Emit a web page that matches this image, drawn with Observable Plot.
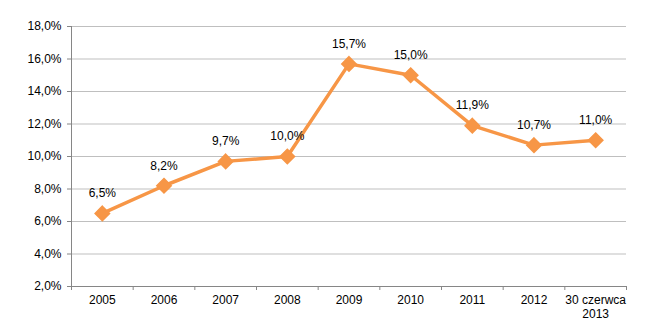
<!DOCTYPE html>
<html>
<head>
<meta charset="utf-8">
<script src="https://cdn.jsdelivr.net/npm/d3@7"></script>
<script src="https://cdn.jsdelivr.net/npm/@observablehq/plot@0.6"></script>
<style>
  html, body { margin: 0; padding: 0; background: #fff; }
  svg { font-family: "Liberation Sans", Arial, sans-serif; }
</style>
</head>
<body>
<div id="chart"></div>
<script>
// Periods shown on the horizontal axis
const periods = ["2005", "2006", "2007", "2008", "2009", "2010", "2011", "2012", "30 czerwca\n2013"];
// Ratio values in percent
const values = [6.5, 8.2, 9.7, 10.0, 15.7, 15.0, 11.9, 10.7, 11.0];
// Vertical axis ticks
const yTicks = [2, 4, 6, 8, 10, 12, 14, 16, 18];

const fmt = v => v.toFixed(1).replace(".", ",") + "%";

// Each period occupies one unit slot; points sit at slot centres
const rows = periods.map((p, i) => ({ label: p, pos: i + 0.5, value: values[i] }));
const slotEdges = d3.range(periods.length + 1);

const orange = "#F79646";
const grid = "#BFBFBF";
const axisColor = "#868686";

const chart = Plot.plot({
  width: 664,
  height: 330,
  marginLeft: 71,
  marginRight: 38,
  marginTop: 26,
  marginBottom: 44,
  style: { fontFamily: "Liberation Sans, Arial, sans-serif", fontSize: "12px", color: "#000", background: "#fff" },
  x: { type: "linear", domain: [0, periods.length], axis: null },
  y: { type: "linear", domain: [2, 18], axis: null },
  marks: [
    // horizontal gridlines
    Plot.ruleY(yTicks.filter(t => t > 2), { x1: 0, x2: periods.length, stroke: grid, strokeWidth: 1 }),
    // y axis ticks, line and labels
    Plot.ruleY(yTicks, { x1: 0, x2: 0, insetLeft: -4, stroke: axisColor, strokeWidth: 1 }),
    Plot.ruleX([0], { y1: 2, y2: 18, stroke: axisColor, strokeWidth: 1 }),
    Plot.text(yTicks, { x: 0, y: d => d, text: fmt, textAnchor: "end", dx: -10, fill: "#000", fontSize: 12 }),
    // x axis line and slot boundary ticks
    Plot.ruleY([2], { x1: 0, x2: periods.length, stroke: axisColor, strokeWidth: 1 }),
    Plot.ruleX(slotEdges, { y1: 2, y2: 2, insetBottom: -4, stroke: axisColor, strokeWidth: 1 }),
    Plot.text(rows, { x: "pos", y: 2, text: "label", lineAnchor: "top", dy: 8, fill: "#000", fontSize: 12, lineHeight: 1.15 }),
    // series line with diamond markers
    Plot.line(rows, { x: "pos", y: "value", stroke: orange, strokeWidth: 3.5 }),
    Plot.dot(rows, { x: "pos", y: "value", symbol: "diamond2", r: 6.5, fill: orange, stroke: orange }),
    // value labels
    Plot.text(rows, { x: "pos", y: "value", text: d => fmt(d.value), dy: -20, fill: "#000", fontSize: 12 })
  ]
});
document.getElementById("chart").appendChild(chart);
</script>
</body>
</html>
